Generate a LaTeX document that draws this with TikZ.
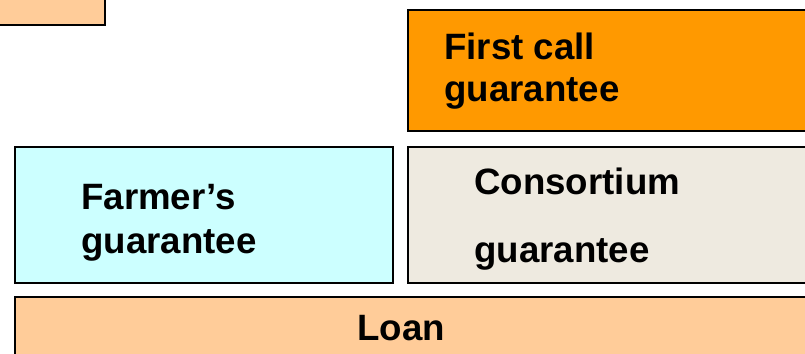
\documentclass[tikz,border=0pt]{standalone}
\usepackage{fontspec}
\setmainfont{Liberation Sans}
\usepackage{xcolor}
\definecolor{peach}{HTML}{FFCC99}
\definecolor{orangebox}{HTML}{FF9900}
\definecolor{lightcyan}{HTML}{CCFFFF}
\definecolor{beige}{HTML}{EEEAE0}
\tikzset{
  block/.style={draw=black,line width=1.5pt},
  blocktext/.style={anchor=base west,inner sep=0pt,font=\fontsize{27.5}{32}\selectfont\bfseries}
}

\begin{document}
\begin{tikzpicture}[x=0.75pt,y=0.75pt,yscale=-1,xscale=1]
\useasboundingbox (0,0) rectangle (805,353);
\clip (0,0) rectangle (805,353);

% boxes
\draw [block,fill=peach] (-10,-10) rectangle (105,25) ;
\draw [block,fill=orangebox] (408,10) rectangle (815,131) ;
\draw [block,fill=lightcyan] (15,147) rectangle (393,283) ;
\draw [block,fill=beige] (408,147) rectangle (815,283) ;
\draw [block,fill=peach] (15,297) rectangle (815,365) ;

% labels
\node [blocktext] (first) at (444,60) {First call};
\node [blocktext] (firstb) at (444,101) {guarantee};
\node [blocktext] (farmer) at (81,209) {Farmer’s};
\node [blocktext] (farmerb) at (81,253) {guarantee};
\node [blocktext] (consortium) at (474,194) {Consortium};
\node [blocktext] (consortiumb) at (474,262) {guarantee};
\node [anchor=base,inner sep=0pt,font=\fontsize{27.5}{32}\selectfont\bfseries] (loan) at (401,340) {Loan};

\end{tikzpicture}
\end{document}
